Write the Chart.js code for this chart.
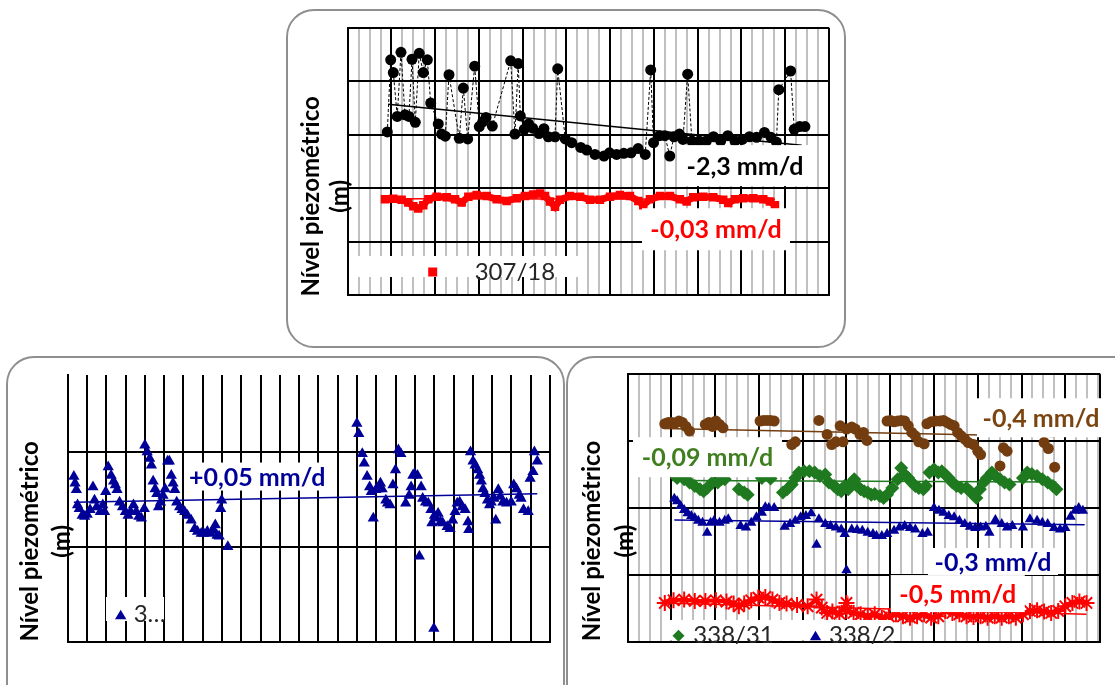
<!DOCTYPE html>
<html>
<head>
<meta charset="utf-8">
<script src="https://cdn.jsdelivr.net/npm/chart.js@4.4.1/dist/chart.umd.min.js"></script>
<style>
body { margin:0; width:1115px; height:685px; overflow:hidden; background:#fff; position:relative; }
.panel { position:absolute; border:2px solid #8f8f8f; border-radius:28px; box-sizing:border-box; background:#fff; }
canvas { position:absolute; }
</style>
</head>
<body>
<div class="panel" style="left:286px;top:9px;width:560px;height:339px"></div>
<div class="panel" style="left:6px;top:356px;width:559px;height:380px"></div>
<div class="panel" style="left:566px;top:356px;width:600px;height:380px"></div>
<canvas id="c1" width="558" height="337" style="left:287px;top:10px"></canvas>
<canvas id="c2" width="558" height="328" style="left:7px;top:357px"></canvas>
<canvas id="c3" width="548" height="328" style="left:567px;top:357px"></canvas>
<script>
// x = time (one unit per minor grid line), y = level (one unit per major grid line)

// top panel
var p307_17 = [[3.62,3.05],[3.93,4.40],[4.17,4.16],[4.53,3.34],[4.87,4.54],[5.24,3.37],[5.60,3.34],[5.88,4.41],[6.18,3.23],[6.54,4.52],[6.91,4.16],[7.28,4.40],[7.59,3.59],[8.28,3.20],[8.59,3.01],[8.92,2.97],[9.26,4.12],[10.20,2.93],[10.57,3.87],[10.97,2.92],[11.61,4.28],[12.03,3.15],[12.34,3.24],[12.64,3.32],[13.22,3.16],[14.90,4.38],[15.29,3.01],[15.59,4.33],[15.78,3.35],[16.14,3.10],[16.54,3.20],[16.91,3.12],[17.49,3.02],[17.94,3.11],[18.34,2.96],[18.95,2.96],[19.20,4.23],[19.89,2.92],[20.48,2.85],[21.30,2.76],[21.85,2.71],[22.61,2.63],[23.43,2.60],[23.93,2.66],[24.58,2.63],[25.24,2.65],[25.90,2.66],[26.55,2.74],[27.20,2.63],[27.70,4.21],[27.96,2.85],[28.52,2.98],[29.00,2.98],[29.44,2.60],[29.83,2.96],[30.33,3.01],[30.65,2.91],[31.08,4.13],[31.47,2.88],[32.13,2.88],[32.79,2.88],[33.44,2.96],[34.10,2.88],[34.75,2.98],[35.40,2.88],[36.07,2.91],[36.73,2.96],[37.38,2.95],[38.10,3.04],[38.69,2.95],[39.19,2.86],[39.41,3.84],[40.49,4.19],[40.82,3.10],[41.32,3.15],[41.80,3.15]];
var p307_18 = [[3.41,1.79],[4.17,1.80],[4.93,1.78],[5.54,1.73],[6.00,1.66],[6.45,1.62],[6.91,1.68],[7.37,1.79],[8.13,1.84],[9.05,1.83],[9.81,1.79],[10.42,1.73],[11.03,1.84],[11.79,1.87],[12.71,1.85],[13.62,1.79],[14.53,1.76],[15.45,1.81],[16.21,1.85],[16.97,1.88],[17.58,1.90],[18.04,1.85],[18.49,1.75],[18.95,1.65],[19.41,1.78],[20.32,1.85],[21.24,1.84],[22.15,1.78],[23.06,1.78],[23.98,1.84],[24.89,1.87],[25.80,1.85],[26.57,1.76],[27.02,1.68],[27.63,1.79],[28.55,1.85],[29.46,1.85],[30.37,1.79],[30.99,1.75],[31.59,1.83],[32.50,1.84],[33.42,1.83],[34.33,1.78],[34.79,1.72],[35.40,1.79],[36.16,1.81],[37.08,1.81],[37.99,1.79],[38.60,1.75],[39.06,1.68]];
var trend307_17 = [[3.7,3.57],[41.5,2.80]];
var trend307_18 = [[3.41,1.80],[39.06,1.79]];

// bottom left panel
var p3 = [[0.32,1.74],[0.38,1.67],[0.45,1.60],[0.51,1.44],[0.60,1.40],[0.75,1.33],[0.88,1.32],[1.01,1.34],[1.16,1.39],[1.31,1.63],[1.39,1.49],[1.50,1.42],[1.69,1.37],[1.82,1.44],[1.91,1.37],[1.97,1.58],[2.10,1.84],[2.25,1.75],[2.38,1.69],[2.47,1.65],[2.56,1.60],[2.69,1.47],[2.84,1.42],[2.99,1.37],[3.13,1.33],[3.26,1.37],[3.41,1.44],[3.55,1.37],[3.69,1.32],[3.82,1.30],[3.97,1.40],[4.00,2.07],[4.12,2.00],[4.25,1.93],[4.34,1.86],[4.43,1.69],[4.53,1.61],[4.62,1.56],[4.71,1.42],[4.81,1.47],[4.94,1.54],[5.05,1.61],[5.18,1.90],[5.27,1.90],[5.37,1.75],[5.46,1.67],[5.55,1.60],[5.65,1.47],[5.80,1.42],[5.93,1.39],[6.06,1.37],[6.21,1.33],[6.40,1.28],[6.58,1.19],[6.73,1.16],[6.92,1.14],[7.05,1.14],[7.24,1.16],[7.42,1.14],[7.55,1.18],[7.65,1.23],[7.74,1.12],[7.85,1.11],[7.93,1.40],[7.98,1.49],[8.30,1.00],
  [14.99,2.30],[15.09,2.19],[15.27,1.98],[15.37,1.88],[15.52,1.74],[15.65,1.63],[15.74,1.58],[15.84,1.30],[15.97,1.60],[16.08,1.61],[16.21,1.67],[16.30,1.61],[16.49,1.49],[16.58,1.46],[16.71,1.44],[16.86,1.65],[16.99,1.81],[17.14,2.02],[17.27,1.98],[17.52,1.46],[17.70,1.54],[17.80,1.63],[17.89,1.75],[17.98,1.77],[18.13,1.75],[18.23,0.90],[18.32,1.63],[18.40,1.51],[18.55,1.47],[18.69,1.46],[18.83,1.39],[18.88,1.25],[18.98,0.14],[19.01,1.33],[19.11,1.30],[19.20,1.35],[19.33,1.26],[19.44,1.25],[19.67,1.21],[19.82,1.19],[19.95,1.28],[20.08,1.37],[20.19,1.46],[20.32,1.47],[20.45,1.42],[20.60,1.39],[20.75,1.26],[20.79,1.18],[20.88,2.00],[21.01,1.90],[21.12,1.86],[21.25,1.81],[21.35,1.75],[21.44,1.69],[21.53,1.61],[21.63,1.56],[21.76,1.49],[21.87,1.44],[21.95,1.47],[22.10,1.51],[22.19,1.28],[22.32,1.60],[22.43,1.53],[22.56,1.47],[22.75,1.46],[22.99,1.47],[23.12,1.65],[23.26,1.61],[23.41,1.54],[23.50,1.51],[23.63,1.39],[23.87,1.37],[23.97,1.72],[24.12,1.79],[24.19,2.00],[24.34,1.90]];
var trend3 = [[0.32,1.47],[24.34,1.56]];

// bottom right panel
var pBrown = [[3.39,3.26],[3.71,3.28],[4.03,3.28],[4.35,3.27],[4.68,3.30],[5.00,3.28],[5.32,3.22],[5.65,3.15],[7.10,3.25],[7.42,3.28],[7.74,3.22],[8.06,3.30],[8.39,3.25],[8.71,3.20],[12.10,3.30],[12.42,3.31],[12.74,3.31],[13.06,3.31],[13.39,3.30],[15.00,2.95],[15.32,2.99],[17.48,3.31],[18.23,3.10],[18.65,2.95],[19.03,2.99],[19.42,3.23],[19.68,2.99],[20.00,3.18],[20.48,3.21],[20.81,3.18],[21.23,3.10],[21.55,3.13],[21.87,3.01],[23.71,3.30],[24.03,3.31],[24.35,3.29],[24.68,3.30],[25.00,3.31],[25.32,3.30],[25.65,3.23],[25.97,3.13],[26.29,3.08],[26.61,2.99],[27.10,2.96],[27.35,3.26],[27.74,3.29],[28.13,3.30],[28.55,3.30],[28.87,3.31],[29.19,3.28],[29.52,3.25],[29.84,3.23],[30.16,3.13],[30.48,3.08],[30.81,3.03],[31.13,2.98],[31.61,2.95],[32.00,2.85],[32.26,2.80],[34.03,2.63],[34.35,2.90],[34.68,2.85],[38.06,2.98],[38.45,2.89],[39.03,2.61]];
var p338_31 = [[4.52,2.45],[5.16,2.43],[5.65,2.38],[6.13,2.33],[6.61,2.28],[6.94,2.25],[7.26,2.30],[7.74,2.38],[8.23,2.38],[8.55,2.43],[8.87,2.43],[10.16,2.28],[10.65,2.23],[10.97,2.20],[12.26,2.45],[13.06,2.44],[14.19,2.23],[14.58,2.28],[15.00,2.35],[15.32,2.45],[15.65,2.53],[16.13,2.55],[16.61,2.55],[17.10,2.53],[17.58,2.48],[18.06,2.50],[18.39,2.38],[18.87,2.33],[19.19,2.28],[19.52,2.25],[19.84,2.33],[20.16,2.28],[20.48,2.38],[20.71,2.43],[20.97,2.33],[21.29,2.28],[21.61,2.25],[21.94,2.23],[22.26,2.20],[22.58,2.21],[23.06,2.18],[23.39,2.15],[23.71,2.20],[24.19,2.30],[24.68,2.43],[25.00,2.60],[25.32,2.50],[25.65,2.45],[25.97,2.38],[26.29,2.33],[26.61,2.30],[27.03,2.28],[27.26,2.33],[27.58,2.53],[28.00,2.58],[28.39,2.53],[28.71,2.55],[29.03,2.50],[29.35,2.45],[29.68,2.38],[30.06,2.33],[30.48,2.30],[30.97,2.30],[31.29,2.25],[31.61,2.20],[31.87,2.15],[32.19,2.28],[32.52,2.38],[32.84,2.45],[33.29,2.53],[33.61,2.48],[34.03,2.43],[34.45,2.38],[34.90,2.35],[36.13,2.45],[36.52,2.53],[36.94,2.51],[37.42,2.48],[37.90,2.43],[38.39,2.38],[38.87,2.33],[39.19,2.28]];
var p338_2 = [[4.26,2.14],[4.52,2.10],[4.84,2.03],[5.16,1.97],[5.48,1.92],[5.81,1.88],[6.13,1.85],[6.45,1.81],[6.84,1.78],[7.26,1.63],[7.58,1.78],[7.90,1.81],[8.39,1.78],[8.87,1.81],[9.19,1.83],[10.32,1.73],[10.81,1.71],[11.29,1.78],[11.77,1.86],[12.26,1.93],[12.58,2.01],[12.90,2.00],[13.39,2.00],[14.35,1.72],[14.84,1.76],[15.32,1.81],[15.81,1.86],[16.29,1.88],[16.77,1.92],[17.26,1.45],[17.48,1.83],[18.06,1.76],[18.55,1.73],[19.03,1.71],[19.52,1.68],[19.84,1.61],[20.00,1.07],[20.48,1.68],[20.97,1.67],[21.45,1.66],[21.94,1.63],[22.42,1.61],[22.74,1.58],[23.23,1.58],[23.71,1.61],[24.35,1.66],[24.84,1.71],[25.32,1.73],[25.81,1.70],[26.29,1.68],[26.94,1.61],[27.42,1.63],[28.00,2.00],[28.45,1.96],[28.87,1.93],[29.35,1.88],[29.84,1.86],[30.32,1.81],[30.81,1.76],[31.29,1.72],[31.77,1.70],[32.26,1.71],[32.74,1.72],[33.06,1.63],[33.61,1.82],[34.19,1.76],[34.68,1.71],[35.16,1.73],[36.13,1.71],[36.77,1.83],[37.42,1.81],[37.90,1.78],[38.39,1.76],[38.97,1.70],[39.52,1.68],[40.00,1.70],[40.48,1.87],[40.90,1.96],[41.23,2.00],[41.61,1.96]];
var pRed = [[3.39,0.58],[4.19,0.62],[5.16,0.63],[6.13,0.61],[7.10,0.61],[8.06,0.62],[9.03,0.60],[9.68,0.57],[10.16,0.53],[10.65,0.57],[11.29,0.62],[11.94,0.66],[12.58,0.67],[13.23,0.63],[13.87,0.58],[14.52,0.57],[15.48,0.55],[16.45,0.53],[17.26,0.63],[17.74,0.51],[18.23,0.43],[18.71,0.45],[19.35,0.42],[20.00,0.58],[20.00,0.46],[20.65,0.43],[21.29,0.41],[21.94,0.38],[22.58,0.41],[23.23,0.36],[23.87,0.38],[24.52,0.41],[25.16,0.38],[25.81,0.36],[26.45,0.38],[27.10,0.41],[27.74,0.36],[28.39,0.38],[29.03,0.46],[29.68,0.43],[30.32,0.41],[30.97,0.38],[31.61,0.37],[32.26,0.38],[32.90,0.36],[33.55,0.38],[34.19,0.36],[34.84,0.38],[35.48,0.36],[36.13,0.41],[36.77,0.46],[37.42,0.47],[38.06,0.45],[38.71,0.43],[39.35,0.46],[40.00,0.53],[40.65,0.58],[41.29,0.60],[41.94,0.58]];
var trendBrown = [[3.39,3.19],[39.03,3.07]];
var trend338_31 = [[4.03,2.41],[39.19,2.39]];
var trend338_2 = [[4.26,1.82],[41.77,1.75]];
var trendRed = [[3.39,0.58],[41.94,0.41]];

// grid ticks
var topXTicks = [], blXTicks = [], brXTicks = [];
for (var i = 0; i <= 44; i++) topXTicks.push(i);
for (var i = 0; i <= 25; i++) blXTicks.push(i);
for (var i = 0; i <= 43; i++) brXTicks.push(i);
brXTicks.push(43.2);
var topYTicks = [0, 1, 2, 3, 4, 5];
var blYTicks = [0, 1, 2];
var brYTicks = [0, 1, 2, 3, 4];

var NAVY = '#000099', RED = '#ff0000', BROWN = '#733d0f', GREEN = '#1f7a1f';

function pts(a) { return a.map(function (p) { return {x: p[0], y: p[1]}; }); }

function trend(a, color) {
    return {data: pts(a), showLine: true, borderColor: color, borderWidth: 1.5, pointRadius: 0};
}

function axis(max, ticks, major) {
    return {
        type: 'linear', min: 0, max: max,
        afterBuildTicks: function (s) { s.ticks = ticks.map(function (v) { return {value: v}; }); },
        ticks: {display: false},
        grid: {
            drawTicks: false,
            lineWidth: 2,
            color: function (c) {
                var v = c.tick ? c.tick.value : 0;
                return (v % major === 0 || v === max) ? '#000' : '#c0c0c0';
            }
        },
        border: {color: '#000', width: 2}
    };
}

function mark(ctx, style, x, y, r, color) {
    ctx.fillStyle = color;
    ctx.beginPath();
    if (style === 'rect') ctx.rect(x - r, y - r, 2 * r, 2 * r);
    else if (style === 'triangle') { ctx.moveTo(x, y - r); ctx.lineTo(x + r * 0.95, y + r * 0.6); ctx.lineTo(x - r * 0.95, y + r * 0.6); }
    else { ctx.moveTo(x, y - r); ctx.lineTo(x + r, y); ctx.lineTo(x, y + r); ctx.lineTo(x - r, y); }
    ctx.closePath();
    ctx.fill();
}

var panelText = {
    id: 'panelText',
    afterDatasetsDraw: function (chart, args, o) {
        var ctx = chart.ctx, a = chart.chartArea, xs = chart.scales.x, ys = chart.scales.y;
        ctx.save();
        ctx.textBaseline = 'middle';
        // slope labels
        o.labels.forEach(function (l) {
            var cx = xs.getPixelForValue(l.x), cy = ys.getPixelForValue(l.y);
            ctx.fillStyle = '#fff';
            ctx.fillRect(cx - l.w / 2, cy - l.h / 2, l.w, l.h);
            ctx.fillStyle = l.color;
            ctx.font = 'bold 25px Lato';
            ctx.textAlign = 'center';
            ctx.fillText(l.text, cx, cy + 1);
        });
        // legend
        var lg = o.legend;
        ctx.fillStyle = '#fff';
        ctx.fillRect(a.left + lg.box[0], a.bottom + lg.box[1], lg.box[2], lg.box[3]);
        ctx.font = '24px Lato';
        ctx.textAlign = 'left';
        lg.items.forEach(function (it) {
            mark(ctx, it.style, a.left + it.mx, a.bottom + it.my, it.r, it.color);
            ctx.fillStyle = '#262626';
            ctx.fillText(it.text, a.left + it.tx, a.bottom + it.ty);
        });
        // y title
        var t = o.title, cy = (a.top + a.bottom) / 2 + t.dy;
        ctx.fillStyle = '#000';
        ctx.font = 'bold 24px Lato';
        ctx.textAlign = 'center';
        ctx.translate(a.left + t.dx, cy);
        ctx.rotate(-Math.PI / 2);
        ctx.fillText('Nível piezométrico', 0, 0);
        ctx.fillText('(m)', 0, t.mdx - t.dx);
        ctx.restore();
    }
};

function makeChart(id, pad, datasets, xAxis, yAxis, text) {
    return new Chart(document.getElementById(id), {
        type: 'scatter',
        data: {datasets: datasets},
        options: {
            responsive: false,
            devicePixelRatio: 1,
            animation: false,
            events: [],
            layout: {padding: pad},
            scales: {x: xAxis, y: yAxis},
            plugins: {legend: {display: false}, tooltip: {enabled: false}, panelText: text}
        },
        plugins: [panelText]
    });
}

makeChart('c1', {left: 60.7, top: 17.7, right: 16, bottom: 52}, [
    trend(trend307_17, '#000'),
    trend(trend307_18, RED),
    {data: pts(p307_17), showLine: true, borderColor: '#000', borderWidth: 1, borderDash: [3, 2],
        pointRadius: 5.5, pointBackgroundColor: '#000', pointBorderWidth: 0},
    {data: pts(p307_18), showLine: true, borderColor: RED, borderWidth: 7, pointStyle: 'rect',
        pointRadius: 6, pointBackgroundColor: RED, pointBorderWidth: 0}
], axis(44, topXTicks, 4), axis(5, topYTicks, 1), {
    title: {dx: -36, mdx: -7, dy: 35},
    labels: [
        {text: '-2,3 mm/d', x: 36.32, y: 2.42, w: 128, h: 41, color: '#000'},
        {text: '-0,03 mm/d', x: 33.67, y: 1.23, w: 148, h: 42, color: RED}
    ],
    legend: {box: [7, -39, 225, 21], items: [
        {style: 'rect', color: RED, r: 4.5, mx: 85, my: -23, text: '307/18', tx: 127, ty: -23}
    ]}
});

makeChart('c2', {left: 60.7, top: 18, right: 15, bottom: 43.3}, [
    trend(trend3, NAVY),
    {data: pts(p3), pointStyle: 'triangle', pointRadius: 6.5, pointBackgroundColor: NAVY, pointBorderColor: NAVY, pointBorderWidth: 0}
], axis(25, blXTicks, 1), axis(2.81, blYTicks, 1), {
    title: {dx: -37, mdx: -5, dy: 33},
    labels: [
        {text: '+0,05 mm/d', x: 9.82, y: 1.74, w: 146, h: 28, color: NAVY}
    ],
    legend: {box: [38.3, -44.7, 58, 24], items: [
        {style: 'triangle', color: NAVY, r: 6, mx: 53, my: -26, text: '3…', tx: 66, ty: -27.7}
    ]}
});

makeChart('c3', {left: 60.7, top: 17.3, right: 14.7, bottom: 43.3}, [
    trend(trendBrown, BROWN),
    trend(trend338_31, GREEN),
    trend(trend338_2, NAVY),
    trend(trendRed, RED),
    {data: pts(pBrown), pointRadius: 5.5, pointBackgroundColor: BROWN, pointBorderWidth: 0},
    {data: pts(p338_31), pointStyle: 'rectRot', pointRadius: 7, pointBackgroundColor: GREEN, pointBorderWidth: 0},
    {data: pts(p338_2), pointStyle: 'triangle', pointRadius: 6, pointBackgroundColor: NAVY, pointBorderWidth: 0},
    {data: pts(pRed), showLine: true, borderColor: RED, borderWidth: 4, pointStyle: 'star',
        pointRadius: 8, pointBorderColor: RED, pointBorderWidth: 2}
], axis(43.2, brXTicks, 4), axis(4, brYTicks, 1), {
    title: {dx: -35, mdx: -2, dy: 33},
    labels: [
        {text: '-0,4 mm/d', x: 37.78, y: 3.35, w: 128, h: 39, color: '#7b4512'},
        {text: '-0,09 mm/d', x: 7.29, y: 2.76, w: 149, h: 40, color: '#3f7f1f'},
        {text: '-0,3 mm/d', x: 33.39, y: 1.20, w: 130, h: 27, color: NAVY},
        {text: '-0,5 mm/d', x: 30.17, y: 0.72, w: 134, h: 37, color: RED}
    ],
    legend: {box: [40.3, -21.7, 223, 20.7], items: [
        {style: 'diamond', color: GREEN, r: 6, mx: 50.8, my: -6, text: '338/31', tx: 65.6, ty: -6},
        {style: 'triangle', color: NAVY, r: 6, mx: 187.8, my: -5, text: '338/2', tx: 201.3, ty: -6}
    ]}
});
</script>
</body>
</html>
